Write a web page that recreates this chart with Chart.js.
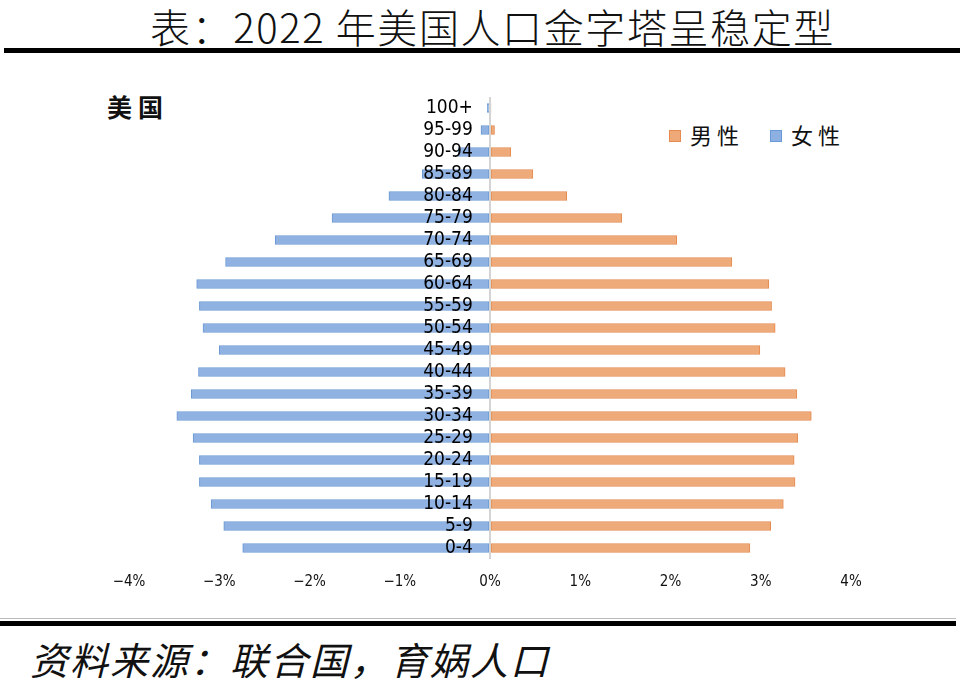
<!DOCTYPE html>
<html>
<head>
<meta charset="utf-8">
<script src="https://cdn.jsdelivr.net/npm/chart.js@4/dist/chart.umd.min.js"></script>
<style>
  html, body { margin: 0; padding: 0; background: #fff; }
  body { width: 960px; height: 690px; position: relative; overflow: hidden; }
  #title { position: absolute; left: 0; top: 2px; width: 935px; padding-left: 25px; text-align: center;
    font-family: "Noto Sans CJK SC", sans-serif; font-size: 40px; font-weight: 300; color: #111; letter-spacing: 1.6px; line-height: 48px; }
  #rule1 { position: absolute; left: 4px; top: 48px; width: 956px; height: 5px; background: #000; }
  #rule2 { position: absolute; left: 0; top: 621px; width: 956px; height: 5px; background: #000; }
  #rule2b { position: absolute; left: 0; top: 618px; width: 956px; height: 1px; background: #bbb; }
  #source { position: absolute; left: 30px; top: 636px; font-family: "Noto Sans CJK SC", sans-serif;
    font-style: italic; font-size: 38px; line-height: 46px; color: #111; letter-spacing: 2px; }
  #country { position: absolute; left: 107px; top: 90px; font-family: "Noto Sans CJK SC", sans-serif;
    font-size: 25px; font-weight: 700; letter-spacing: 6px; color: #111; line-height: 32px; }
  #legend { position: absolute; left: 669px; top: 119px; font-family: "Noto Sans CJK SC", sans-serif;
    font-size: 22px; color: #111; line-height: 30px; white-space: nowrap; }
  #legend span.sw { display: inline-block; width: 12px; height: 12px; vertical-align: middle; margin-right: 9px; position: relative; top: -2px; }
  #legend span.tx { letter-spacing: 5px; }
  #chartbox { position: absolute; left: 0; top: 60px; width: 960px; height: 556px; }
</style>
</head>
<body>
<div id="title">表：2022 年美国人口金字塔呈稳定型</div>
<div id="rule1"></div>
<div id="country">美国</div>
<div id="legend"><span class="sw" style="background:#EFA877;border:1px solid #E58B50;box-sizing:border-box"></span><span class="tx">男性</span><span style="display:inline-block;width:26px"></span><span class="sw" style="background:#8DB1E2;border:1px solid #6A98D4;box-sizing:border-box"></span><span class="tx">女性</span></div>
<div id="chartbox"><canvas id="c" width="960" height="556"></canvas></div>
<div id="rule2b"></div>
<div id="rule2"></div>
<div id="source">资料来源：联合国，育娲人口</div>
<script>
const ageGroups = ["0-4","5-9","10-14","15-19","20-24","25-29","30-34","35-39","40-44","45-49","50-54","55-59","60-64","65-69","70-74","75-79","80-84","85-89","90-94","95-99","100+"];
const maleShare = [2.88, 3.11, 3.25, 3.38, 3.37, 3.41, 3.56, 3.40, 3.27, 2.99, 3.16, 3.12, 3.09, 2.68, 2.07, 1.46, 0.85, 0.475, 0.23, 0.05, 0.01];
const femaleShare = [2.74, 2.95, 3.09, 3.22, 3.22, 3.29, 3.47, 3.31, 3.23, 3.00, 3.18, 3.22, 3.25, 2.93, 2.38, 1.75, 1.12, 0.75, 0.35, 0.10, 0.03];
const xTicks = [-4, -3, -2, -1, 0, 1, 2, 3, 4];
const seriesNames = ["男性", "女性"];

const narrow = '"DejaVu Sans Condensed", "DejaVu Sans", sans-serif';

new Chart(document.getElementById('c'), {
  type: 'bar',
  data: {
    labels: ageGroups,
    datasets: [
      { label: seriesNames[0], data: maleShare, backgroundColor: '#EFAA7A', borderColor: '#E58B50', borderWidth: 1, barThickness: 9, borderSkipped: false },
      { label: seriesNames[1], data: femaleShare.map(v => -v), backgroundColor: '#8FB2E2', borderColor: '#6A98D4', borderWidth: 1, barThickness: 9, borderSkipped: false }
    ]
  },
  options: {
    indexAxis: 'y',
    responsive: false,
    animation: false,
    devicePixelRatio: 1,
    layout: { padding: { left: 129, right: 109, top: 37, bottom: 11 } },
    plugins: { legend: { display: false }, tooltip: { enabled: false } },
    scales: {
      x: {
        type: 'linear',
        min: -4, max: 4,
        stacked: true,
        afterBuildTicks: (s) => { s.ticks = xTicks.map(v => ({ value: v })); },
        grid: { display: true, drawTicks: false, z: 1,
          color: (c) => (c.tick && c.tick.value === 0 ? '#D4D4D4' : 'rgba(0,0,0,0)'),
          lineWidth: (c) => (c.tick && c.tick.value === 0 ? 2 : 0) },
        border: { display: false },
        ticks: { padding: 14, color: '#111', font: { family: narrow, size: 15 }, callback: (v) => (v < 0 ? '\u2212' + Math.abs(v) : v) + '%' }
      },
      y: {
        type: 'category',
        position: { x: -0.19 },
        reverse: true,
        stacked: true,
        grid: { display: false, drawTicks: false },
        border: { display: false },
        ticks: { z: 2, padding: 0, color: '#000', autoSkip: false, font: { family: narrow, size: 19 } }
      }
    }
  }
});
</script>
</body>
</html>
